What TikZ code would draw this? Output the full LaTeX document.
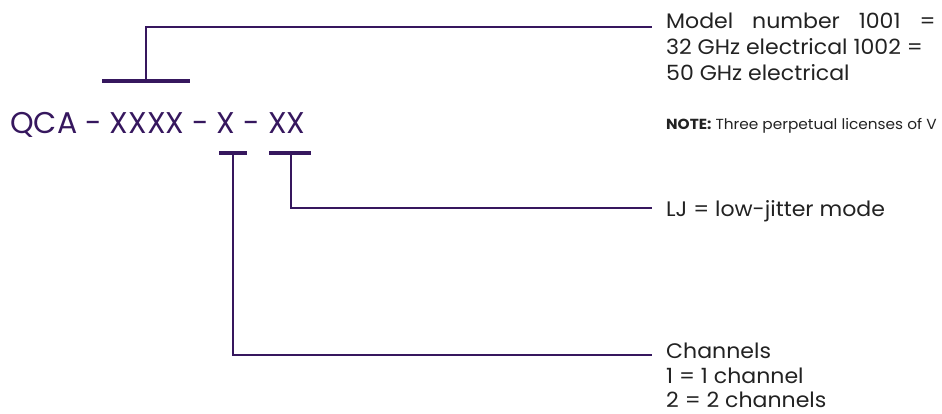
\documentclass[tikz,border=0pt]{standalone}
\usepackage{fontspec}
\setmainfont{Poppins}
\newfontfamily\widefont[FakeStretch=1.05]{Poppins}
\definecolor{plum}{HTML}{36175E}
\definecolor{ink}{HTML}{222222}
\begin{document}
\begin{tikzpicture}[x=1pt,y=-1pt,
  bar/.style={draw=plum,line width=3.2pt},
  lead/.style={draw=plum,line width=2.2pt},
  code/.style={text=plum,font=\fontsize{30}{30}\selectfont,inner sep=0pt,anchor=base west},
  desc/.style={text=ink,font=\widefont\fontsize{21}{26}\selectfont,inner sep=0pt,anchor=base west},
  note/.style={text=ink,font=\widefont\fontsize{14.6}{16}\selectfont,inner sep=0pt,anchor=base west}]
\useasboundingbox (0,0) rectangle (942,414);

% part number
\node[code] (code) at (10,134) {QCA - XXXX - X - XX};

% brackets marking each field
\coordinate (m1) at (102,81);  \coordinate (m2) at (190,81);
\coordinate (c1) at (219,153); \coordinate (c2) at (247,153);
\coordinate (j1) at (269,153); \coordinate (j2) at (311,153);
\draw[bar] (m1) -- (m2);
\draw[bar] (c1) -- (c2);
\draw[bar] (j1) -- (j2);
\coordinate (mtop) at (146,81);
\coordinate (ctop) at (233,153);
\coordinate (jtop) at (291,153);

% descriptions
\node[desc] (model1) at (666,29) {Model\hspace{0.9em}number\hspace{0.9em}1001\hspace{0.9em}=};
\node[desc] (model2) at (666,55) {32 GHz electrical 1002 =};
\node[desc] (model3) at (666,81) {50 GHz electrical};
\node[note] (noteline) at (666,130) {\textbf{NOTE:} Three perpetual licenses of V};
\node[desc] (lj) at (666,216) {LJ = low-jitter mode};
\node[desc] (ch0) at (666,358) {Channels};
\node[desc] (ch1) at (666,383) {1 = 1 channel};
\node[desc] (ch2) at (666,407) {2 = 2 channels};

\coordinate (mend) at (652,27);
\coordinate (jend) at (652,208);
\coordinate (cend) at (652,355);

% leader lines
\draw[lead] (mtop) |- (mend);
\draw[lead] (jtop) |- (jend);
\draw[lead] (ctop) |- (cend);
\end{tikzpicture}
\end{document}
